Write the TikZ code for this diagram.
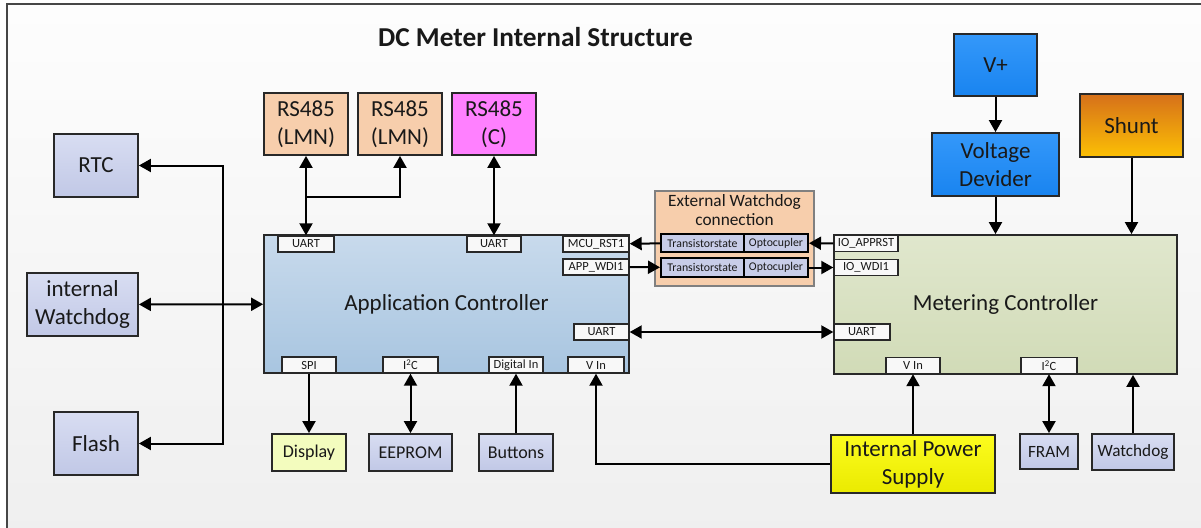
\documentclass[tikz,border=0pt]{standalone}
\usepackage{fontspec}
\setmainfont{Carlito}
\usetikzlibrary{arrows.meta}

\definecolor{txt}{RGB}{25,25,25}
\definecolor{boxline}{RGB}{40,40,40}
\definecolor{lavtop}{RGB}{216,221,242}
\definecolor{lavbot}{RGB}{193,200,230}
\definecolor{peach}{RGB}{247,206,172}
\definecolor{pink}{RGB}{255,128,255}
\definecolor{apptop}{RGB}{200,218,236}
\definecolor{appbot}{RGB}{168,197,224}
\definecolor{mettop}{RGB}{224,231,205}
\definecolor{metbot}{RGB}{209,219,183}
\definecolor{bluetop}{RGB}{52,152,250}
\definecolor{bluebot}{RGB}{25,132,240}
\definecolor{shunttop}{RGB}{214,112,26}
\definecolor{shuntbot}{RGB}{252,192,4}
\definecolor{disp}{RGB}{243,252,190}
\definecolor{ipstop}{RGB}{252,252,30}
\definecolor{ipsbot}{RGB}{234,234,0}
\definecolor{portfill}{RGB}{248,248,248}
\definecolor{cellfill}{RGB}{200,205,232}
\definecolor{bgtop}{RGB}{253,253,253}
\definecolor{bgbot}{RGB}{239,239,239}
\definecolor{frame}{RGB}{70,70,70}

\tikzset{
  sz/.style 2 args={minimum width=#1pt, minimum height=#2pt},
  blk/.style={draw=boxline, line width=1.8pt, align=center,
    font=\fontsize{23}{28}\selectfont},
  lav/.style={blk, top color=lavtop, bottom color=lavbot},
  small/.style={font=\fontsize{18}{21}\selectfont},
  port/.style={draw=boxline, line width=1.4pt, fill=portfill, minimum height=16pt,
    font=\fontsize{12.5}{14}\selectfont},
  cell/.style={draw=black, line width=2pt, fill=cellfill,
    font=\fontsize{11.8}{13}\selectfont},
  conn/.style={draw=black, line width=2pt},
}

\begin{document}
\begin{tikzpicture}[x=1pt,y=-1pt,
  every node/.style={inner sep=0pt, text=txt},
  >={Triangle[length=12pt,width=13pt]}]
\clip (0,0) rectangle (1201,527);
\shade[top color=bgtop, bottom color=bgbot, draw=frame, line width=1.5pt]
  (7,4) rectangle (1215,540);

\node (title) at (535.5,37) {\fontsize{27.3}{30}\selectfont\bfseries DC Meter Internal Structure};

% left side
\node[lav, sz={84}{63}] (rtc) at (96,165.5) {RTC};
\node[lav, sz={111}{63}] (iwd) at (82.5,304.5) {internal\\Watchdog};
\node[lav, sz={84}{63}] (flash) at (96,443.5) {Flash};

% controllers
\node[blk, top color=apptop, bottom color=appbot, sz={365}{138}] (app) at (446.5,304) {Application Controller};
\node[blk, top color=mettop, bottom color=metbot, sz={343}{139}] (meter) at (1005.5,304.5) {Metering Controller};

\node[port, minimum width=56pt] (auart1) at (306,244) {UART};
\node[port, minimum width=54pt] (auart2) at (494,244) {UART};
\node[port, minimum width=66pt] (mcurst) at (596,244) {MCU\_RST1};
\node[port, minimum width=66pt] (appwdi) at (596,267) {APP\_WDI1};
\node[port, minimum width=55pt] (auart3) at (601.5,332) {UART};
\node[port, minimum width=54pt] (spi) at (309,365) {SPI};
\node[port, minimum width=55pt] (ai2c) at (410.5,365) {I\textsuperscript{2}C};
\node[port, minimum width=54pt] (din) at (516,365) {Digital In};
\node[port, minimum width=56pt] (avin) at (596,365) {V In};

\node[port, minimum width=64pt] (ioapp) at (866,243.5) {IO\_APPRST};
\node[port, minimum width=64pt] (iowdi) at (866,267.5) {IO\_WDI1};
\node[port, minimum width=56pt] (muart) at (862,332) {UART};
\node[port, minimum width=54pt] (mvin) at (913,365.5) {V In};
\node[port, minimum width=56pt] (mi2c) at (1049,365.5) {I\textsuperscript{2}C};

% RS485 interfaces
\node[blk, fill=peach, sz={84}{62}] (rs1) at (306,124) {RS485\\(LMN)};
\node[blk, fill=peach, sz={84}{62}] (rs2) at (400,124) {RS485\\(LMN)};
\node[blk, fill=pink, sz={84}{62}] (rsc) at (494,124) {RS485\\(C)};

% external watchdog
\node[draw=gray, line width=1.2pt, fill=peach, sz={159}{95}] (ewd) at (734.5,238.5) {};
\node[align=center, font=\fontsize{17.3}{19.5}\selectfont] (ewdlbl) at (734.5,210) {External Watchdog\\connection};
\node[cell, sz={83}{18}] (ts1) at (702.5,243) {Transistorstate};
\node[cell, sz={64}{18}] (oc1) at (776,243) {Optocupler};
\node[cell, sz={83}{19}] (ts2) at (702.5,267.5) {Transistorstate};
\node[cell, sz={64}{19}] (oc2) at (776,267.5) {Optocupler};

% measurement inputs
\node[blk, top color=bluetop, bottom color=bluebot, sz={83}{62}] (vplus) at (995.5,65) {V+};
\node[blk, top color=bluetop, bottom color=bluebot, sz={127}{63}] (vdiv) at (995.5,164.5) {Voltage\\Devider};
\node[blk, top color=shunttop, bottom color=shuntbot, sz={103}{63}] (shunt) at (1131.5,125.5) {Shunt};

% bottom row
\node[blk, small, fill=disp, sz={74}{37}] (display) at (309,452.5) {Display};
\node[lav, small, sz={83}{37}] (eeprom) at (410.5,452.5) {EEPROM};
\node[lav, small, sz={74}{37}] (buttons) at (516,452.5) {Buttons};
\node[blk, top color=ipstop, bottom color=ipsbot, sz={164}{58}] (ips) at (913,464) {Internal Power\\Supply};
\node[lav, font=\fontsize{17.2}{20}\selectfont, sz={58}{35}] (fram) at (1049,451.5) {FRAM};
\node[lav, font=\fontsize{17.2}{20}\selectfont, sz={82}{36}] (wdog) at (1133,452) {Watchdog};

% connections
\coordinate (bus) at (223,304);
\coordinate (split) at (306,197);
\draw[conn,->] (bus) |- (rtc);
\draw[conn,->] (bus) |- (flash);
\draw[conn,<->] (iwd) -- (app);

\draw[conn,<->] (auart1) -- (rs1);
\draw[conn,->] (split) -| (rs2);
\draw[conn,<->] (auart2) -- (rsc);

\draw[conn,->] (ts1) -- (mcurst);
\draw[conn,->] (ioapp) -- (oc1);
\draw[conn,->] (appwdi) -- (ts2);
\draw[conn,->] (oc2) -- (iowdi);
\draw[conn,<->] (auart3) -- (muart);

\draw[conn,->] (vplus) -- (vdiv);
\draw[conn,->] (vdiv) -- (vdiv |- meter.north);
\draw[conn,->] (shunt) -- (shunt |- meter.north);

\draw[conn,->] (spi) -- (display);
\draw[conn,<->] (ai2c) -- (eeprom);
\draw[conn,->] (buttons) -- (din);
\draw[conn,->] (ips.west) -| (avin);
\draw[conn,->] (ips) -- (mvin);
\draw[conn,<->] (mi2c) -- (fram);
\draw[conn,->] (wdog) -- (wdog |- meter.south);
\end{tikzpicture}
\end{document}
